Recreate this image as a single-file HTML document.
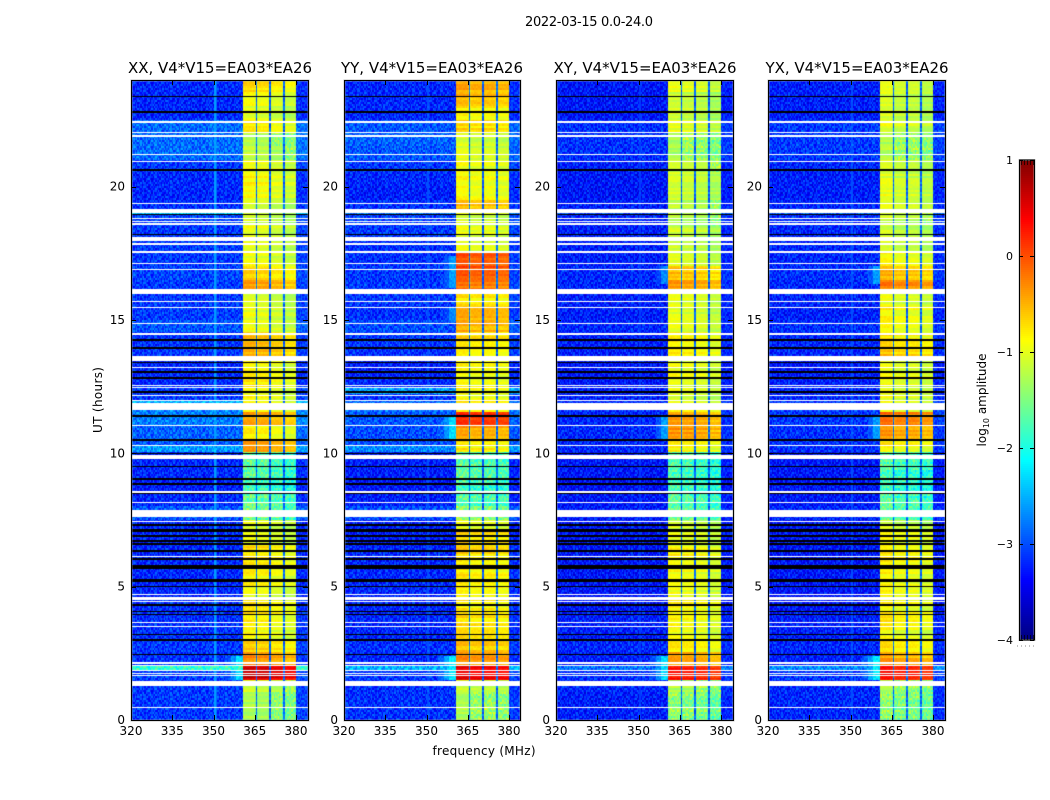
<!DOCTYPE html>
<html>
<head>
<meta charset="utf-8">
<title>2022-03-15 0.0-24.0</title>
<style>
html,body{margin:0;padding:0;background:#fff;}
#stage{position:relative;width:1050px;height:800px;overflow:hidden;background:#fff;font-family:"DejaVu Sans","Liberation Sans",sans-serif;}
canvas{position:absolute;top:80px;height:640px;}
svg{position:absolute;left:0;top:0;}
text{font-family:"DejaVu Sans","Liberation Sans",sans-serif;fill:#000;}
</style>
</head>
<body>
<div id="stage">
<canvas id="heat0" width="177" height="640" style="left:131px;width:177px"></canvas>
<canvas id="heat1" width="176" height="640" style="left:344px;width:176px"></canvas>
<canvas id="heat2" width="177" height="640" style="left:556px;width:177px"></canvas>
<canvas id="heat3" width="177" height="640" style="left:768px;width:177px"></canvas>
<svg id="overlay" width="1050" height="800">
<text x="589" y="26" text-anchor="middle" font-size="13" textLength="128">2022-03-15 0.0-24.0</text>
<text x="220" y="73" text-anchor="middle" font-size="15.5" textLength="184" lengthAdjust="spacingAndGlyphs">XX, V4*V15=EA03*EA26</text>
<text x="432" y="73" text-anchor="middle" font-size="15.5" textLength="182" lengthAdjust="spacingAndGlyphs">YY, V4*V15=EA03*EA26</text>
<text x="645" y="73" text-anchor="middle" font-size="15.5" textLength="183" lengthAdjust="spacingAndGlyphs">XY, V4*V15=EA03*EA26</text>
<text x="857" y="73" text-anchor="middle" font-size="15.5" textLength="183" lengthAdjust="spacingAndGlyphs">YX, V4*V15=EA03*EA26</text>
<text x="484" y="755" text-anchor="middle" font-size="12" textLength="103">frequency (MHz)</text>
<text transform="translate(102,400) rotate(-90)" text-anchor="middle" font-size="12" textLength="66">UT (hours)</text>
<text transform="translate(986,400) rotate(-90)" text-anchor="middle" font-size="12">log<tspan font-size="8" dy="3">10</tspan><tspan dy="-3"> amplitude</tspan></text>
</svg>
</div>
<script>
// Time-profile values: one per half hour, hour 0 first (log10 amplitude)
const bandLevelXX = [-1.35,-1.35,-1.2,0.55,-0.4,-0.75,-0.95,-0.85,-0.85,-1.0,-0.95,-0.85,-0.8,-1.0,-1.1,-1.6,-1.7,-1.9,-1.75,-1.7,-0.45,-0.85,-0.55,-0.95,-0.95,-0.85,-0.95,-0.6,-0.65,-1.05,-1.05,-1.05,-0.45,-0.7,-1.05,-1.05,-1.05,-1.15,-1.15,-1.0,-0.95,-1.05,-1.25,-1.3,-0.85,-1.05,-1.05,-0.75];
const bandLevelYY = [-1.35,-1.35,-1.2,0.4,-0.4,-0.65,-0.8,-0.8,-0.85,-0.85,-0.85,-0.85,-0.75,-0.75,-1.05,-1.5,-1.75,-1.85,-1.75,-1.75,-0.85,-0.45,0.1,-0.75,-0.95,-0.95,-0.95,-0.85,-0.75,-0.55,-0.55,-0.85,-0.25,-0.05,-0.1,-1.05,-1.05,-1.1,-0.65,-0.95,-0.95,-1.0,-1.1,-1.15,-0.75,-0.85,-0.6,-0.5];
const bandLevelXY = [-1.5,-1.5,-1.35,0.2,-0.55,-0.9,-1.0,-0.95,-0.95,-1.05,-1.0,-0.95,-0.9,-1.05,-1.2,-1.7,-1.8,-1.9,-1.85,-1.8,-0.95,-0.45,-0.45,-1.0,-1.1,-1.0,-1.05,-0.9,-0.95,-1.1,-1.1,-1.1,-0.5,-0.65,-1.1,-1.2,-1.2,-1.3,-1.3,-1.2,-1.2,-1.25,-1.4,-1.4,-1.1,-1.2,-1.2,-1.05];
const bandLevelYX = [-1.5,-1.5,-1.35,0.25,-0.5,-0.85,-1.0,-0.9,-0.95,-1.0,-0.95,-0.9,-0.85,-1.0,-1.15,-1.7,-1.8,-1.95,-1.85,-1.8,-0.9,-0.5,-0.25,-1.0,-1.05,-1.0,-1.05,-0.7,-0.85,-1.0,-0.95,-1.1,-0.35,-0.65,-0.95,-1.15,-1.2,-1.25,-1.1,-1.1,-1.15,-1.2,-1.35,-1.4,-1.1,-1.2,-1.15,-1.05];
const backgroundXX = [-3.1,-3.1,-3.1,-3.05,-3.15,-3.1,-3.15,-3.15,-3.15,-3.2,-3.2,-3.2,-3.2,-3.2,-3.2,-2.95,-3.2,-3.25,-3.2,-3.2,-2.95,-2.9,-2.75,-2.75,-3.1,-3.2,-3.2,-3.1,-3.15,-2.95,-3.1,-3.1,-3.1,-3.05,-3.1,-3.1,-3.1,-3.05,-3.15,-3.2,-3.2,-3.1,-2.85,-2.85,-2.85,-3.2,-3.2,-3.2];
const backgroundYY = [-3.15,-3.15,-3.15,-3.1,-3.2,-3.15,-3.2,-3.2,-3.2,-3.2,-3.2,-3.2,-3.2,-3.25,-3.25,-3.0,-3.25,-3.3,-3.25,-3.25,-3.0,-3.0,-2.95,-2.85,-3.15,-3.2,-3.25,-3.15,-3.1,-3.0,-3.15,-3.1,-3.1,-3.1,-3.15,-3.15,-3.1,-3.05,-3.15,-3.25,-3.2,-3.1,-2.95,-2.9,-2.95,-3.2,-3.2,-3.2];
const backgroundXY = [-3.25,-3.25,-3.2,-3.15,-3.25,-3.2,-3.25,-3.25,-3.3,-3.3,-3.3,-3.3,-3.3,-3.3,-3.3,-3.25,-3.3,-3.35,-3.3,-3.3,-3.2,-3.2,-3.2,-3.15,-3.25,-3.3,-3.3,-3.25,-3.25,-3.2,-3.25,-3.25,-3.2,-3.2,-3.25,-3.25,-3.25,-3.2,-3.25,-3.3,-3.3,-3.25,-3.15,-3.15,-3.15,-3.3,-3.3,-3.3];
const backgroundYX = [-3.2,-3.2,-3.2,-3.1,-3.25,-3.2,-3.25,-3.25,-3.3,-3.3,-3.3,-3.3,-3.3,-3.3,-3.3,-3.2,-3.3,-3.3,-3.3,-3.3,-3.15,-3.15,-3.1,-3.1,-3.2,-3.25,-3.3,-3.2,-3.2,-3.15,-3.25,-3.2,-3.2,-3.15,-3.2,-3.2,-3.2,-3.15,-3.2,-3.25,-3.25,-3.2,-3.1,-3.1,-3.1,-3.25,-3.25,-3.25];
// Spectral windows: start and end frequency (MHz)
const windowStart = [360.7,366.0,371.0,376.0];
const windowEnd = [365.4,370.4,375.4,380.0];
// Per-window offset from the panel's band level
const windowOffsetXX = [0.1,0.05,-0.05,-0.15];
const windowOffsetYY = [0.08,0.0,0.02,-0.05];
const windowOffsetXY = [0.1,0.05,0.0,-0.1];
const windowOffsetYX = [0.12,0.0,0.0,-0.1];
// Flagged hours: [start, end]
const whiteHours = [[22.37,22.46],[22.0,22.05],[21.86,21.92],[21.19,21.24],[20.92,20.98],[19.35,19.4],[19.03,19.18],[18.79,18.84],[18.67,18.73],[18.58,18.64],[17.96,18.13],[17.81,17.87],[17.51,17.57],[17.1,17.15],[16.87,16.93],[15.97,16.16],[15.67,15.73],[15.45,15.5],[14.85,14.9],[14.44,14.53],[13.46,13.65],[13.2,13.25],[12.53,12.58],[12.45,12.5],[12.15,12.2],[11.96,12.0],[11.81,11.87],[11.62,11.81],[11.02,11.08],[10.27,10.33],[9.77,9.94],[8.51,8.57],[8.14,8.19],[7.69,7.87],[7.61,7.67],[7.42,7.48],[6.1,6.15],[4.69,4.74],[4.5,4.61],[4.44,4.47],[3.64,3.69],[3.48,3.53],[2.11,2.16],[2.04,2.08],[1.82,1.86],[1.73,1.77],[1.67,1.7],[1.27,1.46],[0.46,0.5]];
const blackHours = [[23.35,23.4],[22.78,22.83],[20.6,20.65],[18.92,18.97],[18.18,18.23],[14.23,14.28],[13.93,13.98],[13.4,13.44],[13.03,13.08],[12.8,12.85],[12.28,12.33],[11.38,11.43],[10.48,10.53],[9.98,10.02],[9.47,9.52],[9.0,9.07],[8.83,8.88],[8.49,8.53],[7.27,7.35],[7.06,7.15],[6.85,6.94],[6.69,6.75],[6.57,6.62],[6.31,6.37],[6.01,6.06],[5.66,5.81],[5.19,5.28],[4.98,5.03],[4.29,4.35],[4.04,4.09],[3.92,3.97],[3.19,3.24],[2.98,3.03],[2.44,2.49]];
// Narrow background rows: [start, end, level]
const stripesXX = [[1.87,1.97,-1.9],[18.95,19.03,-2.4],[11.62,11.96,-2.5],[10.02,10.26,-2.6]];
const stripesYY = [[1.87,1.97,-2.5],[18.95,19.03,-2.8],[12.2,12.4,-2.6],[10.02,10.26,-2.7]];
const stripesXY = [[1.87,1.97,-2.8],[18.95,19.03,-3.0]];
const stripesYX = [[1.87,1.97,-2.7],[18.95,19.03,-2.9]];
// Rising background left of the band: [start, end, level]
const shoulderXX = [[1.5,2.4,-2.3]];
const shoulderYY = [[1.5,2.4,-2.2],[10.5,11.4,-2.3],[14.9,15.4,-2.7],[16.2,17.4,-2.6]];
const shoulderXY = [[1.5,2.4,-2.3],[10.5,11.4,-2.6],[16.3,17.0,-2.7]];
const shoulderYX = [[1.5,2.4,-2.2],[10.5,11.4,-2.6],[16.3,17.0,-2.6]];
// Interference channels: [frequency, level]
const rfiXX = [[350.7,-2.6],[351.2,-2.85]];
const rfiYY = [[350.7,-3.0]];
const rfiXY = [[350.7,-3.1]];
const rfiYX = [[350.7,-3.0]];
// Hand-typed speckle texture tile, digits 0-9
const speckleTile = [
"39172058461930725864","71603948215760394182","25849160373826150947","06317482950413869275",
"84926037154790263810","13570896421358074692","69204715382096147538","47831260975624809136",
"92065384170349528671","30718942653871062495","58460137298410736259","16293875046592381704",
"74150629387026954183","08537241690743815926","61984073521689302547","23746518094137650892"
];
const freqTicks = [320,335,350,365,380];
const hourTicks = [0,5,10,15,20];
const colorTicks = [-4,-3,-2,-1,0,1];
const colorTickLabels = ["\u22124","\u22123","\u22122","\u22121","0","1"];
const panelTitles = ["xx","yy","xy","yx"];
const panelLeft = [131,344,556,768];
const panelWidth = [177,176,177,177];
const bandLevels = [bandLevelXX,bandLevelYY,bandLevelXY,bandLevelYX];
const backgrounds = [backgroundXX,backgroundYY,backgroundXY,backgroundYX];
const windowOffsets = [windowOffsetXX,windowOffsetYY,windowOffsetXY,windowOffsetYX];
const stripes = [stripesXX,stripesYY,stripesXY,stripesYX];
const shoulders = [shoulderXX,shoulderYY,shoulderXY,shoulderYX];
const rfi = [rfiXX,rfiYY,rfiXY,rfiYX];

const plotTop = 80, plotBottom = 720, pxPerMHz = 2.75, colorTop = 160, colorBottom = 640;
function xFreq(f){ return (f-320)*pxPerMHz; }
function yHour(h){ return (plotBottom-plotTop)*(1-h/24); }
function yColor(v){ return colorBottom-(v+4)/5*(colorBottom-colorTop); }
function jet(v){
  const t = Math.max(0,Math.min(1,(v+4)/5));
  const c = function(o){ return Math.max(0,Math.min(1,1.5-Math.abs(4*t-o))); };
  return 'rgb('+Math.round(c(3)*255)+','+Math.round(c(2)*255)+','+Math.round(c(1)*255)+')';
}
function inRange(list,h){
  for(let i=0;i<list.length;i++){ if(h>=list[i][0] && h<list[i][1]) return list[i][2]; }
  return null;
}
function windowIndex(f){
  for(let i=0;i<windowStart.length;i++){ if(f>=windowStart[i] && f<windowEnd[i]) return i; }
  return -1;
}
function drawPanel(p){
  const ctx = document.getElementById('heat'+p).getContext('2d');
  const w = panelWidth[p];
  const df = 0.25, dh = 0.075;
  for(let r=0;r*dh<24;r++){
    const h = r*dh;
    const half = Math.min(47,Math.floor(h*2));
    const base = bandLevels[p][half];
    let bg = backgrounds[p][half];
    const strip = inRange(stripes[p],h);
    if(strip!==null) bg = strip;
    const sh = inRange(shoulders[p],h);
    const tileRow = speckleTile[(r+p*5)%speckleTile.length];
    const rowVar = (Number(speckleTile[(r+p)%16][Math.floor(r/4)%20])-4.5)/4.5*0.12;
    for(let c=0;c*df<65;c++){
      const f = 320+c*df;
      const s = (Number(tileRow[(Math.floor(c/2)+p*7)%tileRow.length])-4.5)/4.5;
      const wi = windowIndex(f);
      let v;
      if(wi>=0){
        const lv = base+windowOffsets[p][wi];
        const edge = Math.min(f-windowStart[wi],windowEnd[wi]-f);
        v = lv+rowVar+s*(lv<-1.3?0.3:0.06);
        if(edge<0.25) v -= 0.15;
      } else if(f>=365 && f<376){
        v = -2.9+s*0.2;
      } else {
        v = bg+s*(f>380?0.25:0.33);
        if(f>380) v += 0.05;
        if(sh!==null && f>=354.5 && f<360.7){
          const lift = f>=358.5?sh:(f>=356.5?sh-0.35:sh-0.7);
          v = Math.max(v,lift+s*0.15);
        }
        for(let k=0;k<rfi[p].length;k++){
          if(Math.abs(rfi[p][k][0]-f)<0.26) v = Math.max(v,rfi[p][k][1]);
        }
      }
      ctx.fillStyle = jet(v);
      const x0 = Math.floor(xFreq(f));
      ctx.fillRect(x0,yHour(h)-2,Math.max(1,Math.ceil(xFreq(f+df))-x0),2);
    }
  }
  ctx.fillStyle = '#000';
  blackHours.forEach(function(b){
    const y0 = Math.round(yHour(b[1]));
    ctx.fillRect(0,y0,w,Math.max(1,Math.round(yHour(b[0])-y0)));
  });
  ctx.fillStyle = '#fff';
  whiteHours.forEach(function(b){
    const y0 = Math.round(yHour(b[1]));
    ctx.fillRect(0,y0,w,Math.max(1,Math.round(yHour(b[0])-y0)));
  });
}
[0,1,2,3].forEach(drawPanel);

const NS = 'http://www.w3.org/2000/svg';
const overlay = document.getElementById('overlay');
function svgEl(tag,attrs,name){
  const el = document.createElementNS(NS,tag);
  for(const k in attrs){ el.setAttribute(k,attrs[k]); }
  
  
  overlay.appendChild(el);
  return el;
}
panelLeft.forEach(function(left,p){
  const w = panelWidth[p], id = panelTitles[p];
  svgEl('rect',{x:left+0.5,y:plotTop+0.5,width:w,height:plotBottom-plotTop,fill:'none',stroke:'#999','stroke-width':2,'stroke-opacity':0.6},'panel-halo-'+id);
  svgEl('rect',{x:left+0.5,y:plotTop+0.5,width:w,height:plotBottom-plotTop,fill:'none',stroke:'#000','stroke-width':1},'panel-frame-'+id);
  freqTicks.forEach(function(t){
    const x = Math.round(left+xFreq(t))+0.5;
    svgEl('line',{x1:x,x2:x,y1:plotBottom,y2:plotBottom-5,stroke:'#000','stroke-width':1},'x-tick-'+id+'-'+t);
    svgEl('line',{x1:x,x2:x,y1:plotTop,y2:plotTop+5,stroke:'#000','stroke-width':1},'x-tick-top-'+id+'-'+t);
    const lab = svgEl('text',{x:left+xFreq(t),y:plotBottom+15,'text-anchor':'middle','font-size':12},'x-tick-label-'+id+'-'+t);
    lab.textContent = String(t);
  });
  hourTicks.forEach(function(t){
    const y = Math.round(plotTop+yHour(t))+0.5;
    svgEl('line',{x1:left,x2:left+5,y1:y,y2:y,stroke:'#000','stroke-width':1},'y-tick-'+id+'-'+t);
    svgEl('line',{x1:left+w,x2:left+w-5,y1:y,y2:y,stroke:'#000','stroke-width':1},'y-tick-right-'+id+'-'+t);
    const lab = svgEl('text',{x:left-6,y:plotTop+yHour(t)+4,'text-anchor':'end','font-size':12},'y-tick-label-'+id+'-'+t);
    lab.textContent = String(t);
  });
});
// Colour bar
for(let py=colorTop;py<colorBottom;py+=2){
  const v = -4+(colorBottom-py-1)/(colorBottom-colorTop)*5;
  svgEl('rect',{x:1019,y:py,width:15,height:2,fill:jet(v)},'colorbar-step');
}
svgEl('rect',{x:1019.5,y:160,width:15,height:480,fill:'none',stroke:'#aaa','stroke-width':2,'stroke-opacity':0.7},'colorbar-halo');
svgEl('rect',{x:1019.5,y:160,width:15,height:480,fill:'none',stroke:'#000','stroke-width':1},'colorbar-frame');
colorTicks.forEach(function(t,i){
  const y = Math.round(yColor(t))+0.5;
  svgEl('line',{x1:1019,x2:1023,y1:y,y2:y,stroke:'#000','stroke-width':1},'colorbar-tick-left');
  svgEl('line',{x1:1034,x2:1030,y1:y,y2:y,stroke:'#000','stroke-width':1},'colorbar-tick-right');
  const lab = svgEl('text',{x:1013,y:yColor(t)+4,'text-anchor':'end','font-size':11},'colorbar-tick-label');
  lab.textContent = colorTickLabels[i];
});
[1021,1024,1027,1030,1033].forEach(function(x){
  svgEl('line',{x1:x+0.5,x2:x+0.5,y1:160,y2:165,stroke:'#000','stroke-width':1,'stroke-opacity':0.7},'colorbar-minor-tick-top');
  svgEl('line',{x1:x+0.5,x2:x+0.5,y1:640,y2:635,stroke:'#000','stroke-width':1,'stroke-opacity':0.7},'colorbar-minor-tick-bottom');
});
svgEl('line',{x1:1017,x2:1035,y1:646,y2:646,stroke:'#888','stroke-width':1,'stroke-dasharray':'1 3'},'colorbar-offset-dots');
</script>
</body>
</html>
